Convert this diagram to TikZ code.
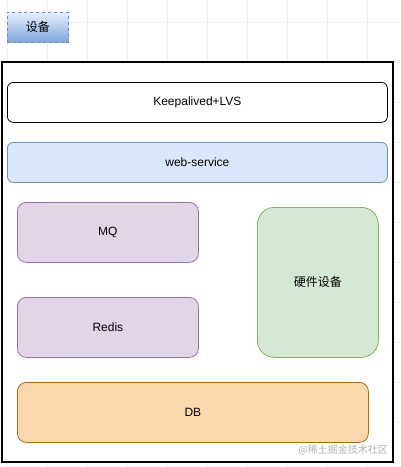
\documentclass[tikz,border=0pt]{standalone}
\usepackage{fontspec}
\setmainfont{Liberation Sans}
\newfontfamily\cjk{Noto Sans CJK SC}
\definecolor{gridln}{HTML}{EFEFEF}
\definecolor{wsfill}{HTML}{DAE8FC}
\definecolor{wsline}{HTML}{6C8EBF}
\definecolor{mqfill}{HTML}{E1D5E7}
\definecolor{mqline}{HTML}{9673A6}
\definecolor{hwfill}{HTML}{D5E8D4}
\definecolor{hwline}{HTML}{82B366}
\definecolor{dbfill}{HTML}{FAD7AC}
\definecolor{dbline}{HTML}{B46504}
\definecolor{btntop}{HTML}{DAE8FC}
\definecolor{btnbot}{HTML}{7EA6E0}
\definecolor{wmark}{HTML}{B4B4B4}
\tikzset{
  layer/.style 2 args={rectangle, rounded corners=#1, fill=#2, line width=0.8pt,
                anchor=north west, align=center, inner sep=0pt,
                font=\fontsize{12}{14}\selectfont},
  tag/.style={rectangle, draw=wsline, dashed, line width=0.8pt,
              top color=btntop!70!white, bottom color=btnbot, anchor=north west,
              inner sep=0pt, minimum width=61pt, minimum height=30pt,
              font=\cjk\fontsize{12}{14}\selectfont},
  frame/.style={draw=black, fill=white, line width=1.2pt},
}

\begin{document}
\begin{tikzpicture}[x=1pt, y=-1pt]
  \useasboundingbox (0,0) rectangle (400,467);
  % faint canvas grid
  \foreach \gx in {7,47,...,407}
    \draw[gridln, line width=0.6pt] (\gx,0) -- (\gx,467);
  \foreach \gy in {22,62,...,462}
    \draw[gridln, line width=0.6pt] (0,\gy) -- (400,\gy);

  \node[tag] (legend) at (7,12) {设备};

  \draw[frame] (2,62) rectangle (393,462);

  \node[layer={6pt}{white}, draw=black, minimum width=380pt, minimum height=40pt] (lvs) at (7,82) {Keepalived+LVS};
  \node[layer={6pt}{wsfill}, draw=wsline, minimum width=380pt, minimum height=40pt] (web) at (7,142) {web-service};
  \node[layer={9pt}{mqfill}, draw=mqline, minimum width=181pt, minimum height=60pt] (mq) at (17,202) {MQ};
  \node[layer={9pt}{mqfill}, draw=mqline, minimum width=181pt, minimum height=60pt] (redis) at (17,297) {Redis};
  \node[layer={17pt}{hwfill}, draw=hwline, minimum width=121pt, minimum height=150pt, font=\cjk\fontsize{12}{14}\selectfont] (hw) at (257,207) {硬件设备};
  \node[layer={9pt}{dbfill}, draw=dbline, minimum width=351pt, minimum height=60pt] (db) at (17,382) {DB};

  \node[anchor=east, text=wmark, inner sep=0pt, font=\cjk\fontsize{10}{12}\selectfont] (mark) at (388,450) {@稀土掘金技术社区};
\end{tikzpicture}
\end{document}
